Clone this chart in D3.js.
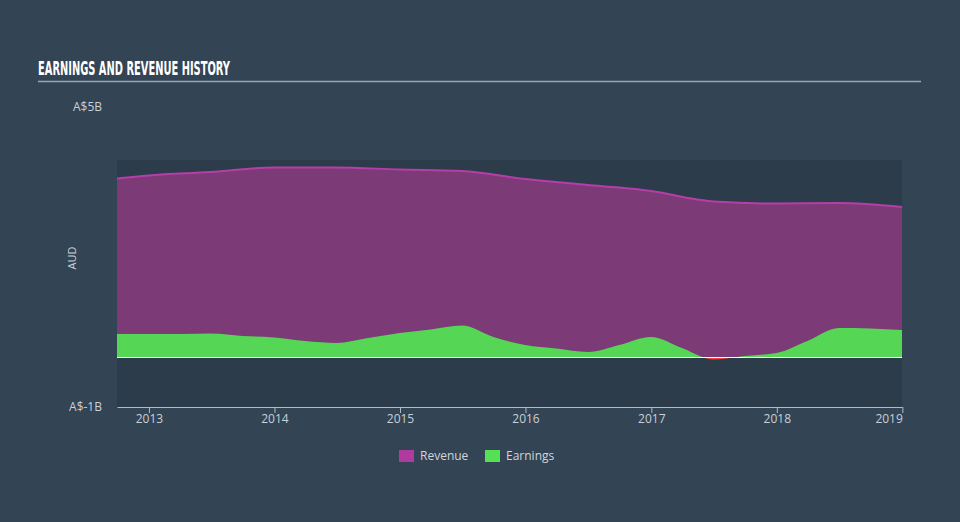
<!DOCTYPE html>
<html><head><meta charset="utf-8">
<script src="https://cdn.jsdelivr.net/npm/d3@7"></script>
<style>
html,body{margin:0;padding:0;background:#334454;}
svg{display:block;}
</style></head>
<body>
<script>
// ---- data (A$ billions) ----
const revenueDates = ["2012-09-30","2012-12-31","2013-06-30","2013-12-31","2014-06-30","2014-12-31","2015-06-30","2015-12-31","2016-04-30","2016-06-30","2016-09-30","2016-12-31","2017-05-15","2017-06-30","2017-12-31","2018-06-30","2018-12-31"];
const revenueValues = [3.57,3.63,3.70,3.79,3.79,3.75,3.72,3.56,3.48,3.44,3.39,3.32,3.15,3.11,3.07,3.08,3.00];
const earningsDates = ["2012-09-30","2012-12-31","2013-03-31","2013-06-30","2013-09-30","2013-12-31","2014-03-31","2014-06-30","2014-09-30","2014-12-31","2015-03-31","2015-06-30","2015-09-30","2015-12-31","2016-03-31","2016-06-30","2016-09-30","2016-12-31","2017-03-31","2017-06-30","2017-09-30","2017-12-31","2018-03-31","2018-06-30","2018-09-30","2018-12-31"];
const earningsValues = [0.46,0.46,0.46,0.47,0.42,0.39,0.32,0.28,0.38,0.48,0.55,0.63,0.40,0.24,0.17,0.10,0.24,0.40,0.18,-0.05,0.02,0.08,0.32,0.58,0.57,0.54];
const yTickLabels = ["A$-1B","A$5B"];
const yTickValues = [-1,5];
const xTickYears = [2013,2014,2015,2016,2017,2018,2019];
const seriesNames = ["Revenue","Earnings"];

const W=960,H=522;
const svg=d3.select("body").append("svg").attr("width",W).attr("height",H);
svg.append("rect").attr("width",W).attr("height",H).attr("fill","#334454");

const parse=d3.timeParse("%Y-%m-%d");
const rev=revenueDates.map((d,i)=>({date:parse(d),v:revenueValues[i]}));
const earn=earningsDates.map((d,i)=>({date:parse(d),v:earningsValues[i]}));

const pLeft=117,pRight=902,pTop=160,pBottom=407;
const x=d3.scaleTime().domain([parse("2012-09-30"),parse("2018-12-31")]).range([pLeft,pRight]);
const y=d3.scaleLinear().domain([-1,5]).range([407,107]);

// title
svg.append("text").attr("x",38).attr("y",75).text("EARNINGS AND REVENUE HISTORY")
  .attr("fill","#ffffff").attr("font-family","'Liberation Sans Narrow','DejaVu Sans Condensed',sans-serif")
  .attr("font-weight","bold").attr("font-size",20).attr("textLength",192).attr("lengthAdjust","spacingAndGlyphs");
svg.append("line").attr("x1",38).attr("x2",921).attr("y1",81.5).attr("y2",81.5).attr("stroke","#9aa6b2").attr("stroke-width",1.5);

// plot background
svg.append("rect").attr("x",pLeft).attr("y",pTop).attr("width",pRight-pLeft).attr("height",pBottom-pTop).attr("fill","#2d3c4b");

const curve=d3.curveMonotoneX;
// revenue area
svg.append("path").datum(rev).attr("fill","#7c3a76")
  .attr("d",d3.area().x(d=>x(d.date)).y0(y(0)).y1(d=>y(d.v)).curve(curve));
svg.append("path").datum(rev).attr("fill","none").attr("stroke","#b53ea9").attr("stroke-width",2)
  .attr("d",d3.line().x(d=>x(d.date)).y(d=>y(d.v)).curve(curve));

// earnings area with clips
const defs=svg.append("defs");
defs.append("clipPath").attr("id","above").append("rect").attr("x",pLeft).attr("y",0).attr("width",pRight-pLeft).attr("height",y(0));
defs.append("clipPath").attr("id","below").append("rect").attr("x",pLeft).attr("y",y(0)).attr("width",pRight-pLeft).attr("height",H-y(0));
const earnArea=d3.area().x(d=>x(d.date)).y0(y(0)).y1(d=>y(d.v)).curve(curve);
svg.append("path").datum(earn).attr("fill","#55d655").attr("clip-path","url(#above)").attr("d",earnArea);
svg.append("path").datum(earn).attr("fill","#e8463c").attr("clip-path","url(#below)").attr("d",earnArea);

// zero line
svg.append("line").attr("x1",pLeft).attr("x2",pRight).attr("y1",y(0)+0.5).attr("y2",y(0)+0.5).attr("stroke","#ffffff").attr("stroke-width",1);

// x axis
const xAxis=svg.append("g").attr("transform",`translate(0,${pBottom})`)
  .call(d3.axisBottom(x).tickValues(xTickYears.map(yr=>new Date(yr,0,1))).tickFormat(d3.timeFormat("%Y")).tickSize(6).tickSizeOuter(0));
xAxis.select(".domain").attr("stroke","#aebccb");
xAxis.selectAll(".tick line").attr("stroke","#aebccb");
xAxis.selectAll(".tick text").attr("fill","#c8d0d8").attr("font-size",12).attr("font-family","'Open Sans',sans-serif").attr("dy","0.55em")
  .attr("text-anchor",(d,i,n)=>i===n.length-1?"end":"middle");

// y labels
svg.selectAll(".ylab").data(yTickValues).enter().append("text")
  .attr("x",102).attr("y",d=>y(d)).attr("dy","0.35em").attr("text-anchor","end")
  .attr("fill","#c8d0d8").attr("font-size",12).attr("font-family","'Open Sans',sans-serif")
  .text((d,i)=>yTickLabels[i]);
svg.append("text").attr("transform","translate(76,258) rotate(-90)").attr("text-anchor","middle")
  .attr("fill","#c8d0d8").attr("font-size",11).attr("font-family","'Open Sans',sans-serif").text("AUD");

// legend
const legColors=["#b03a9e","#55e055"];
const legX=[399,485];
seriesNames.forEach((n,i)=>{
  svg.append("rect").attr("x",legX[i]).attr("y",450).attr("width",15).attr("height",12).attr("fill",legColors[i]);
  svg.append("text").attr("x",legX[i]+21).attr("y",456).attr("dy","0.35em").attr("fill","#d0d6dc")
    .attr("font-size",12).attr("font-family","'Open Sans',sans-serif").text(n);
});
</script>
</body></html>
